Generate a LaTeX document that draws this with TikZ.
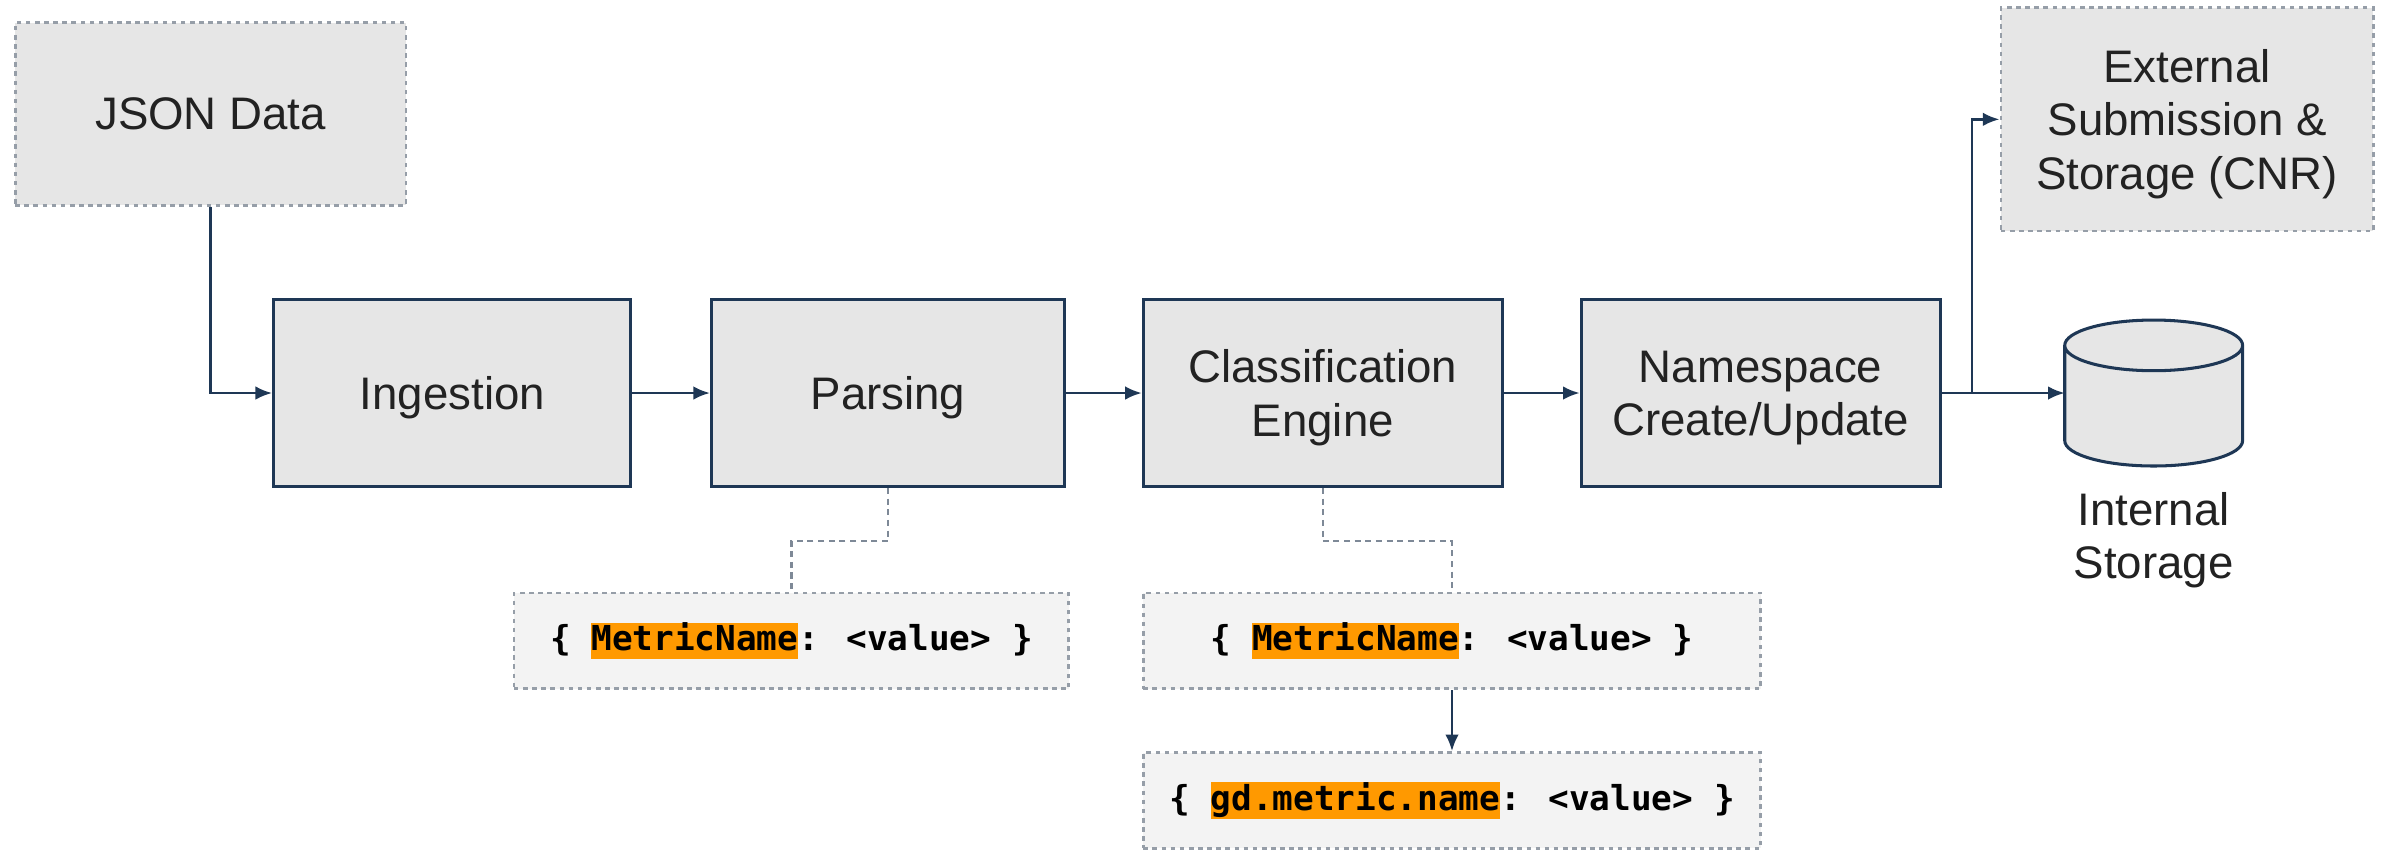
\documentclass[tikz,border=0pt]{standalone}
\usepackage{fontspec}
\setmainfont{Liberation Sans}
\newfontfamily\codefont{DejaVu Sans Mono}
\usetikzlibrary{shapes.geometric,arrows.meta}
\definecolor{navy}{RGB}{30,55,85}
\definecolor{boxgray}{RGB}{230,230,230}
\definecolor{codegray}{RGB}{243,243,243}
\definecolor{dotgray}{RGB}{150,158,168}
\definecolor{hlorange}{RGB}{255,153,0}
\definecolor{txt}{RGB}{34,34,34}
\newcommand{\hlkey}[1]{{\setlength{\fboxsep}{0pt}\colorbox{hlorange}{\rule[-2.8pt]{0pt}{11.6pt}#1}}}
\tikzset{
  stage/.style={draw=navy, line width=1pt, fill=boxgray, text=txt, align=center, text depth=0pt,
    minimum width=117.5pt, minimum height=61.5pt, font=\fontsize{15}{17.5}\selectfont},
  source/.style={draw=dotgray, line width=0.9pt, dash pattern=on 1.5pt off 1.5pt, fill=boxgray,
    text=txt, align=center, text depth=0pt, font=\fontsize{15}{17.5}\selectfont},
  codebox/.style={draw=dotgray, line width=0.9pt, dash pattern=on 1.5pt off 1.5pt, fill=codegray,
    minimum height=31.5pt, font=\codefont\bfseries\fontsize{11.3}{13}\selectfont},
  db/.style={cylinder, shape border rotate=90, aspect=2.5, draw=navy, line width=1pt,
    fill=boxgray, minimum width=58.5pt, minimum height=48pt, anchor=shape center},
  flow/.style={navy, line width=0.9pt, -{Latex[length=5.5pt,width=4.5pt]}},
  note/.style={dotgray!80!navy, line width=0.8pt, dash pattern=on 2pt off 1.5pt},
}
\begin{document}
\begin{tikzpicture}[x=0.5pt,y=-0.5pt]
  \useasboundingbox (0,0) rectangle (1568,560.4);
  % sources and stages
  \node[source, minimum width=128.5pt, minimum height=60pt] (json) at (138.5,75) {JSON Data};
  \node[stage] (ing) at (297.5,258.5) {Ingestion};
  \node[stage, minimum width=116pt] (parse) at (584,258.5) {Parsing};
  \node[stage, minimum width=118pt] (cls) at (870,258.5) {Classification\\Engine};
  \node[stage, minimum width=118pt] (ns) at (1158,258.5) {Namespace\\Create/Update};
  \node[source, minimum width=122.5pt, minimum height=73.5pt] (ext) at (1438.5,78.5)
    {External\\Submission \&\\Storage (CNR)};
  \node[db] (store) at (1416.5,258.5) {};
  \node[text=txt, align=center, text depth=0pt, font=\fontsize{15}{17.5}\selectfont] (storelabel)
    at (1416.5,352) {Internal\\Storage};
  % code samples
  \node[codebox, minimum width=182.5pt] (code1) at (520.5,421.5)
    {\{ \hlkey{MetricName}: <value> \}};
  \node[codebox, minimum width=203pt] (code2) at (955,421.5)
    {\{ \hlkey{MetricName}: <value> \}};
  \node[codebox, minimum width=203pt] (code3) at (955,526.5)
    {\{ \hlkey{gd.metric.name}: <value> \}};
  % flow
  \draw[flow] (json.south) |- (ing.west);
  \draw[flow] (ing) -- (parse);
  \draw[flow] (parse) -- (cls);
  \draw[flow] (cls) -- (ns);
  \coordinate (storein) at (1358,258.5);
  \draw[flow] (ns.east) -- (storein);
  \coordinate (split) at (1297,258.5);
  \draw[flow] (split) |- (ext.west);
  \draw[flow] (code2) -- (code3);
  % notes
  \draw[note] (parse.south) -- ++(0,35) -| (code1.north);
  \draw[note] (cls.south) -- ++(0,35) -| (code2.north);
\end{tikzpicture}
\end{document}
